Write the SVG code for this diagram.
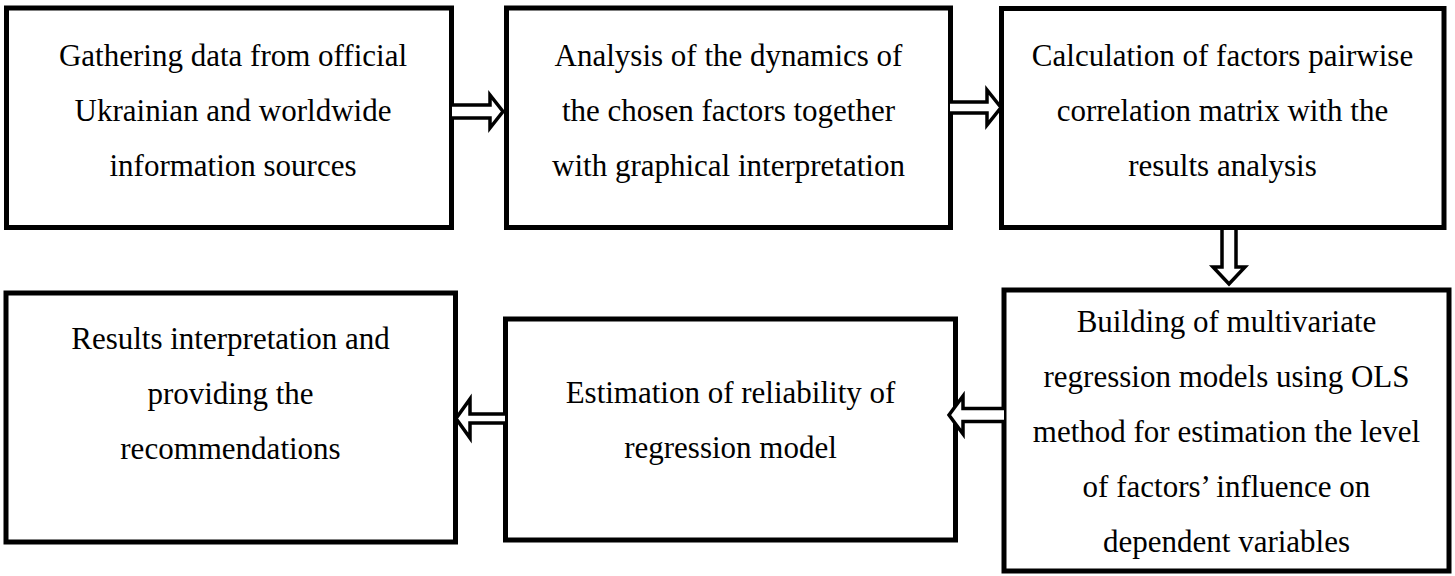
<svg xmlns="http://www.w3.org/2000/svg" width="1455" height="576" viewBox="0 0 1455 576">
<style>
.box{fill:#fff;stroke:#000;stroke-width:5}
.arr{fill:#fff;stroke:#000;stroke-width:3.5;stroke-linejoin:miter}
text{font-family:"Liberation Serif","Times New Roman",serif;font-size:31px;fill:#000;text-anchor:middle}
</style>
<rect width="1455" height="576" fill="#fff"/>
<g id="n1"><rect class="box" x="6.5" y="8" width="445" height="219.5"/>
<text x="233" y="66">Gathering data from official</text>
<text x="233" y="121">Ukrainian and worldwide</text>
<text x="233" y="176">information sources</text></g>
<g id="n2"><rect class="box" x="506.5" y="8" width="444" height="219.5"/>
<text x="728.5" y="66">Analysis of the dynamics of</text>
<text x="728.5" y="121">the chosen factors together</text>
<text x="728.5" y="176">with graphical interpretation</text></g>
<g id="n3"><rect class="box" x="1001.5" y="8.5" width="442.5" height="219"/>
<text x="1222.5" y="66">Calculation of factors pairwise</text>
<text x="1222.5" y="121">correlation matrix with the</text>
<text x="1222.5" y="176">results analysis</text></g>
<g id="n4"><rect class="box" x="1004" y="290" width="445" height="281"/>
<text x="1226.5" y="332">Building of multivariate</text>
<text x="1226.5" y="387">regression models using OLS</text>
<text x="1226.5" y="442">method for estimation the level</text>
<text x="1226.5" y="497">of factors’ influence on</text>
<text x="1226.5" y="552">dependent variables</text></g>
<g id="n5"><rect class="box" x="505.5" y="319" width="450" height="221"/>
<text x="730.5" y="403">Estimation of reliability of</text>
<text x="730.5" y="458">regression model</text></g>
<g id="n6"><rect class="box" x="6" y="293" width="449.5" height="249"/>
<text x="230.5" y="349">Results interpretation and</text>
<text x="230.5" y="404">providing the</text>
<text x="230.5" y="459">recommendations</text></g>
<g id="connectors">
<path class="arr" d="M452,105 H490 V95 L503,111.5 L490,128 V118 H452"/>
<path class="arr" d="M950,102 H987 V90 L1001,107.5 L987,125 V113 H950"/>
<path class="arr" d="M1222,230 V267 H1213 L1229,284 L1245,267 H1236 V230"/>
<path class="arr" d="M1004,408.5 H963 V396 L949,415 L963,434 V421.5 H1004"/>
<path class="arr" d="M505,414 H470 V399 L456,418.5 L470,438 V423 H505"/>
</g>
</svg>
